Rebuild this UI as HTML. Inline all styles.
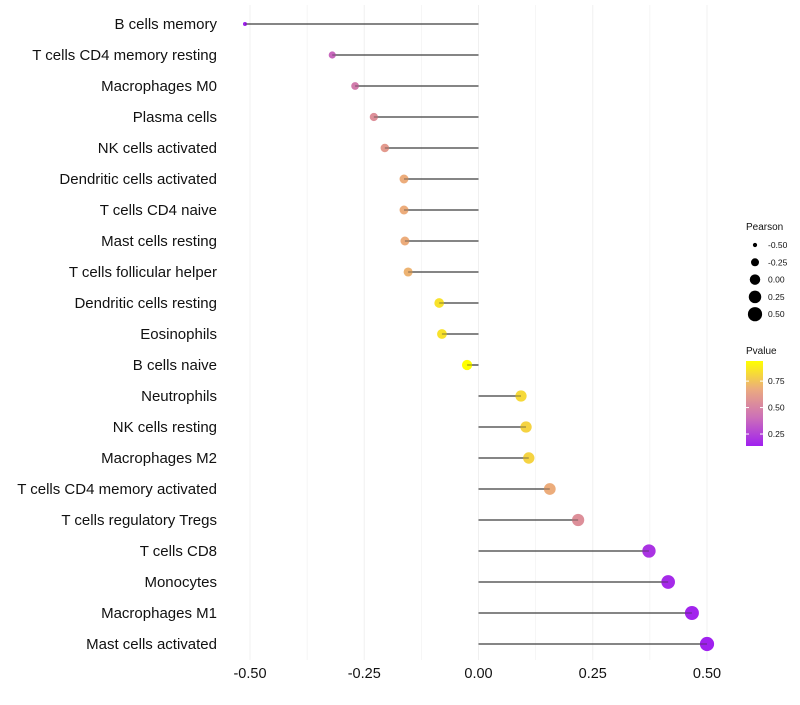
<!DOCTYPE html>
<html><head><meta charset="utf-8"><style>
body{margin:0;background:#fff;}
svg{font-family:"Liberation Sans",Arial,sans-serif;}
</style></head><body>
<svg id="chart" width="800" height="700"></svg>
<script>
const categories=["B cells memory","T cells CD4 memory resting","Macrophages M0","Plasma cells","NK cells activated","Dendritic cells activated","T cells CD4 naive","Mast cells resting","T cells follicular helper","Dendritic cells resting","Eosinophils","B cells naive","Neutrophils","NK cells resting","Macrophages M2","T cells CD4 memory activated","T cells regulatory  Tregs ","T cells CD8","Monocytes","Macrophages M1","Mast cells activated"];
const pearson=[-0.511,-0.32,-0.27,-0.229,-0.205,-0.163,-0.163,-0.161,-0.154,-0.086,-0.08,-0.025,0.093,0.104,0.11,0.156,0.218,0.373,0.415,0.467,0.5];
const pvalue=[0.14,0.38,0.46,0.55,0.6,0.68,0.68,0.68,0.7,0.85,0.85,0.94,0.82,0.8,0.8,0.68,0.55,0.2,0.17,0.15,0.14];
const xTicks=[-0.5,-0.25,0,0.25,0.5];
const xTickLabels=["-0.50","-0.25","0.00","0.25","0.50"];
const sizeBreaks=[-0.5,-0.25,0,0.25,0.5];
const sizeLabels=["-0.50","-0.25","0.00","0.25","0.50"];
const colorBreaks=[0.25,0.5,0.75];
const colorLabels=["0.25","0.50","0.75"];

const NS="http://www.w3.org/2000/svg";
const svg=document.getElementById('chart');
function mk(tag,attrs,parent){const e=document.createElementNS(NS,tag);for(const k in attrs)e.setAttribute(k,attrs[k]);(parent||svg).appendChild(e);return e;}
const x=v=>478.5+v*457;
const y=i=>24+i*31;
const rad=v=>Math.sqrt(4+46*Math.max(0,v+0.51));
const pMin=0.137,pMax=0.94;
const stops=[[160,32,240],[204,111,184],[235,170,127],[255,255,0]];
function col(p){let t=Math.max(0,Math.min(1,(p-pMin)/(pMax-pMin)))*3;let i=Math.min(2,Math.floor(t));let f=t-i;const a=stops[i],b=stops[i+1];return `rgb(${a.map((c,k)=>Math.round(c+(b[k]-c)*f)).join(',')})`;}

const grid=mk('g',{});


for(let v=-0.5;v<=0.51;v+=0.125){mk('line',{x1:x(v),x2:x(v),y1:5,y2:660,stroke:'#f0f0f0','stroke-width':Math.abs((v*4)%1)<0.01?1:0.6},grid);}
xTicks.forEach((v,i)=>{const t=mk('text',{x:x(v),y:678,'text-anchor':'middle','font-size':14.5,fill:'#111'});t.textContent=xTickLabels[i];

});
categories.forEach((c,i)=>{
 const t=mk('text',{x:217,y:y(i)+5,'text-anchor':'end','font-size':15,fill:'#111'});t.textContent=c;
 
 
 const l=mk('line',{x1:x(0),x2:x(pearson[i]),y1:y(i),y2:y(i),stroke:'#444','stroke-width':1.3});
 
 
 const p=mk('circle',{cx:x(pearson[i]),cy:y(i),r:rad(pearson[i]),fill:col(pvalue[i])});
 
 
 mk('line',{x1:x(0),x2:x(pearson[i]),y1:y(i),y2:y(i),stroke:'#333','stroke-width':1,'stroke-opacity':0.6});
});
const lg=mk('g',{});


mk('text',{x:746,y:230,'font-size':10,fill:'#111'},lg).textContent='Pearson';
sizeBreaks.forEach((v,i)=>{const yy=245+i*17.3;mk('circle',{cx:755,cy:yy,r:rad(v),fill:'#000'},lg);mk('text',{x:768,y:yy+3,'font-size':8.5,fill:'#111'},lg).textContent=sizeLabels[i];});
const cg=mk('g',{});


mk('text',{x:746,y:354,'font-size':10,fill:'#111'},cg).textContent='Pvalue';
const defs=mk('defs',{});const gr=mk('linearGradient',{id:'pg',x1:0,y1:1,x2:0,y2:0},defs);
stops.forEach((s,i)=>mk('stop',{offset:i/3,'stop-color':`rgb(${s.join(',')})`},gr));
mk('rect',{x:746,y:361,width:17,height:85,fill:'url(#pg)'},cg);
const cy=p=>446-(p-pMin)/(pMax-pMin)*85;
colorBreaks.forEach((p,i)=>{mk('line',{x1:746,x2:749,y1:cy(p),y2:cy(p),stroke:'#fff'},cg);mk('line',{x1:760,x2:763,y1:cy(p),y2:cy(p),stroke:'#fff'},cg);mk('text',{x:768,y:cy(p)+3,'font-size':8.5,fill:'#111'},cg).textContent=colorLabels[i];});
</script>
</body></html>
